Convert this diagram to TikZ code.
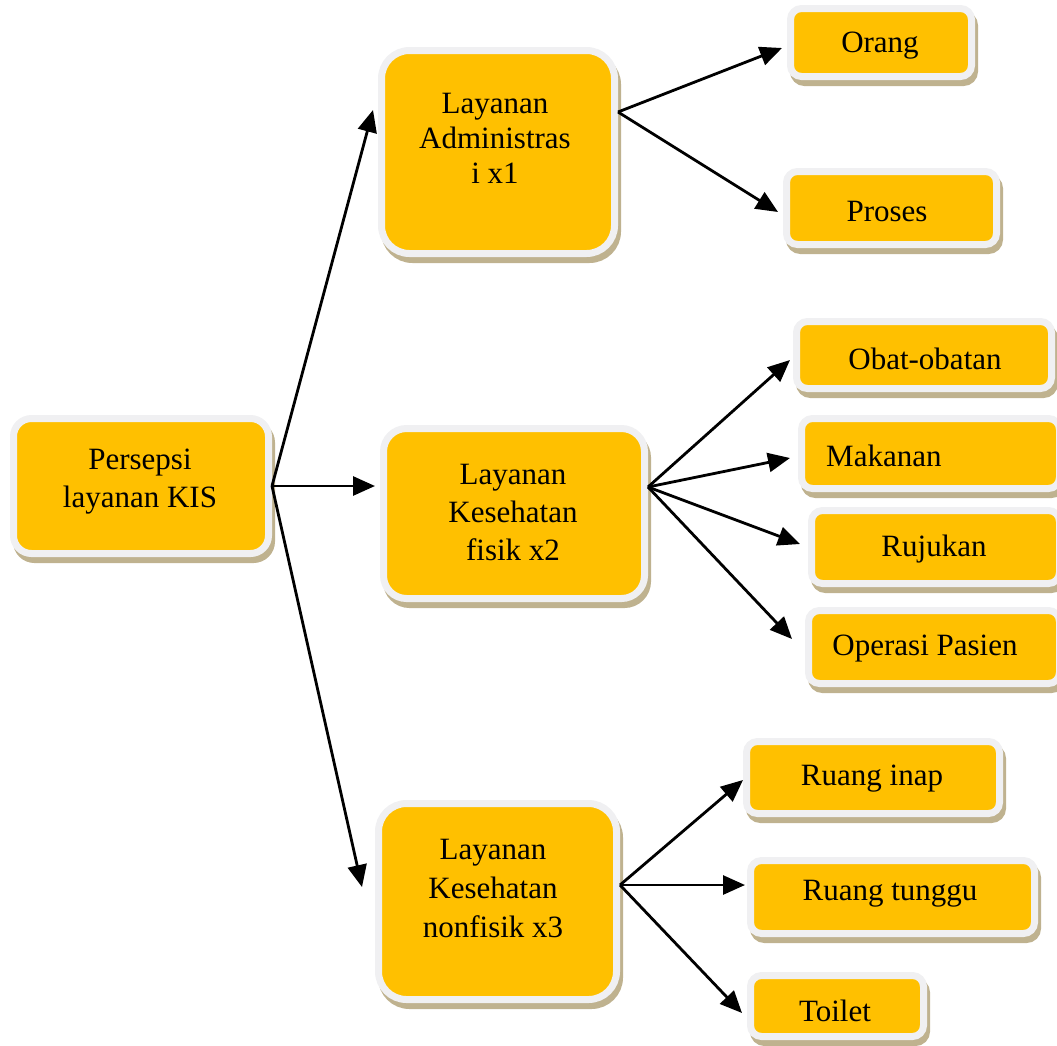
\documentclass[tikz,border=0pt]{standalone}
\usepackage{fontspec}
\setmainfont{Liberation Serif}
\usetikzlibrary{shadows,arrows.meta,calc}
\definecolor{boxorange}{RGB}{255,192,0}
\definecolor{boxrim}{RGB}{240,240,242}
\definecolor{boxshadow}{RGB}{191,178,143}
\tikzset{
 card/.style={draw=boxrim, line width=7pt, fill=boxorange, rounded corners=#1,
   outer sep=3.5pt, inner sep=0pt,
   drop shadow={shadow xshift=3pt, shadow yshift=-6pt, fill=boxshadow,
     draw=boxshadow, line width=7pt, opacity=1}},
 card/.default=11pt,
 lbl/.style={font=\fontsize{31}{38}\selectfont, align=center, inner sep=0pt},
 conn/.style={-{Triangle[length=22pt,width=19pt]}, line width=2.8pt},
}
\begin{document}
\begin{tikzpicture}[x=1pt,y=-1pt]
\useasboundingbox (0,0) rectangle (1057,1045);
% boxes
\node[card=18pt, minimum width=255pt, minimum height=135pt] (p) at (141,486) {};
\node[card=28pt, minimum width=233pt, minimum height=203pt] (adm) at (498,152) {};
\node[card=23pt, minimum width=261pt, minimum height=170pt] (fis) at (514,513.5) {};
\node[card=28pt, minimum width=238pt, minimum height=196pt] (non) at (497.5,901.5) {};
\node[card, minimum width=181pt, minimum height=68pt] (org) at (881,42.5) {};
\node[card, minimum width=210pt, minimum height=73pt] (pro) at (891.5,208) {};
\node[card, minimum width=255pt, minimum height=67pt] (obt) at (924,355) {};
\node[card, minimum width=258pt, minimum height=70pt] (mak) at (930.5,453.5) {};
\node[card, minimum width=248pt, minimum height=73pt] (ruj) at (935.5,547) {};
\node[card, minimum width=251pt, minimum height=73pt] (ops) at (934,647) {};
\node[card, minimum width=253pt, minimum height=72pt] (inp) at (873,777.5) {};
\node[card, minimum width=284pt, minimum height=73pt] (tng) at (892.5,897) {};
\node[card, minimum width=173pt, minimum height=61pt] (tlt) at (837,1006) {};
% texts
\node[lbl] (tp) at (140,482) {Persepsi\\layanan KIS};
\node[lbl, font=\fontsize{31}{35}\selectfont] (tadm) at (495,138) {Layanan\\Administras\\i x1};
\node[lbl] (tfis) at (513,512) {Layanan\\Kesehatan\\fisik x2};
\node[lbl, font=\fontsize{31}{39}\selectfont] (tnon) at (493,888) {Layanan\\Kesehatan\\nonfisik x3};
\node[lbl] (torg) at (880,46) {Orang};
\node[lbl] (tpro) at (887,211) {Proses};
\node[lbl] (tobt) at (925,359) {Obat-obatan};
\node[lbl, anchor=west] (tmak) at (826,456) {Makanan};
\node[lbl] (truj) at (934,549) {Rujukan};
\node[lbl] (tops) at (925,649) {Operasi Pasien};
\node[lbl] (tinp) at (872,779) {Ruang inap};
\node[lbl] (ttng) at (890,894) {Ruang tunggu};
\node[lbl] (ttlt) at (835,1011) {Toilet};
% connectors
\draw[conn] (p.east) -- ($(adm.west)+(-5,-42)$);
\draw[conn] (p.east) -- ($(fis.west)+(-5,-27.5)$);
\draw[conn] (p.east) -- ($(non.west)+(-13,-14.5)$);
\draw[conn] ($(adm.east)+(0,-40)$) -- ($(org.west)+(-5,5.5)$);
\draw[conn] ($(adm.east)+(0,-40)$) -- ($(pro.west)+(-5,4)$);
\draw[conn] ($(fis.east)+(0,-26.5)$) -- ($(obt.west)+(-3,5)$);
\draw[conn] ($(fis.east)+(0,-26.5)$) -- ($(mak.west)+(-8,4.5)$);
\draw[conn] ($(fis.east)+(0,-26.5)$) -- ($(ruj.west)+(-8,-3)$);
\draw[conn] ($(fis.east)+(0,-26.5)$) -- ($(ops.west)+(-13,-8)$);
\draw[conn] ($(non.east)+(0,-16.5)$) -- ($(inp.west)+(0,2.5)$);
\draw[conn] ($(non.east)+(0,-16.5)$) -- ($(tng.west)+(-2,-12)$);
\draw[conn] ($(non.east)+(0,-16.5)$) -- ($(tlt.west)+(-5,7)$);
\end{tikzpicture}
\end{document}
